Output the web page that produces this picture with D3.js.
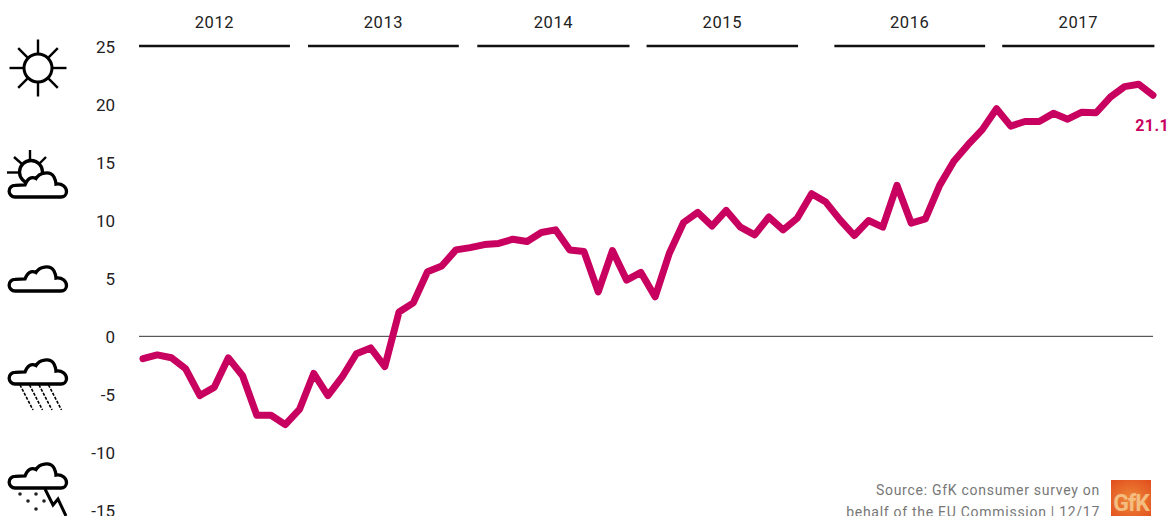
<!DOCTYPE html>
<html>
<head>
<meta charset="utf-8">
<script src="https://cdn.jsdelivr.net/npm/d3@7/dist/d3.min.js"></script>
<style>
html,body{margin:0;padding:0;background:#fff;overflow:hidden}
svg{display:block}
text{font-family:Roboto,sans-serif}
</style>
</head>
<body>
<svg id="c" width="1169" height="516"></svg>
<script>
// Consumer climate index, monthly Jan 2012 - Dec 2017
const values = [
 -1.93,-1.6,-1.85,-2.8,-5.1,-4.4,-1.85,-3.4,-6.8,-6.8,-7.6,-6.3,
 -3.2,-5.1,-3.5,-1.5,-1.0,-2.6,2.1,2.88,5.56,6.05,7.44,7.64,
 7.9,8.0,8.36,8.16,8.94,9.17,7.44,7.3,3.83,7.38,4.84,5.5,
 3.4,7.15,9.8,10.67,9.5,10.84,9.4,8.74,10.27,9.17,10.18,12.28,
 11.56,10.03,8.68,9.97,9.4,13.0,9.75,10.12,13.0,15.08,16.5,17.8,
 19.6,18.1,18.5,18.5,19.2,18.7,19.3,19.25,20.6,21.5,21.7,20.76
];
const yTicks = [25,20,15,10,5,0,-5,-10,-15];
const years = ["2012","2013","2014","2015","2016","2017"];
const yearStartMonth = [-0.28,11.6,23.5,35.4,48.6,60.4];
const yearEndMonth   = [10.33,22.2,34.2,46.05,59.2,71.1];
const lastLabel = "21.1";
const sourceLines = ["Source: GfK consumer survey on","behalf of the EU Commission | 12/17"];

const svg = d3.select("#c");
const x = d3.scaleLinear().domain([0, values.length-1]).range([143,1153]);
const y = d3.scaleLinear().domain([-15,25]).range([510.5,46]);

// y axis
const yAxis = d3.axisLeft(y).tickValues(yTicks).tickSize(0).tickPadding(0).tickFormat(d=>String(d));
const ag = svg.append("g").attr("transform","translate(115,0)").call(yAxis);
ag.select(".domain").remove();
ag.selectAll("text").attr("fill","#222").style("font-size","17px").style("font-family","Roboto,sans-serif").attr("dy","0.36em");

// zero line
svg.append("line").attr("x1",139).attr("x2",1153).attr("y1",y(0)).attr("y2",y(0))
  .attr("stroke","#333").attr("stroke-width",1);

// years
const yg = svg.selectAll("g.year").data(years).join("g").attr("class","year");
yg.append("line")
  .attr("x1",(d,i)=>x(yearStartMonth[i])).attr("x2",(d,i)=>x(yearEndMonth[i]))
  .attr("y1",46).attr("y2",46).attr("stroke","#111").attr("stroke-width",2.5);
yg.append("text")
  .attr("x",(d,i)=>(x(yearStartMonth[i])+x(yearEndMonth[i]))/2).attr("y",28)
  .attr("text-anchor","middle").attr("fill","#222").style("font-size","16.5px").style("letter-spacing","0.6px")
  .text(d=>d);

// line
const line = d3.line().x((d,i)=>x(i)).y(d=>y(d)).curve(d3.curveLinear);
svg.append("path").datum(values).attr("d",line).attr("fill","none")
  .attr("stroke","#c8005f").attr("stroke-width",7).attr("stroke-linejoin","round").attr("stroke-linecap","round");

svg.append("text").attr("x",1169).attr("y",131).attr("text-anchor","end")
  .attr("fill","#c8005f").style("font-size","16px").style("font-weight","700").style("letter-spacing","0.4px").text(lastLabel);

// weather icons
const cloud = "M15,35 A5.8,5.8 0 0 1 15,23.3 L25,23 C27,17 31,14 36,16.5 C39,11 50,8 54,15 C55,17 56,20 56,22 C62,21 66.5,25 66.5,29.5 C66.5,33 64,35 61,35 Z";
const ico = svg.append("g").attr("fill","none").attr("stroke","#000").attr("stroke-width",3.3).attr("stroke-linecap","butt");

// sun
const sun = ico.append("g").attr("transform","translate(38,68)").attr("stroke-width",2.4);
sun.append("circle").attr("r",14).attr("stroke-width",3);
d3.range(8).forEach(k=>{
  const a=k*Math.PI/4, r2=k%2?28:28.5;
  sun.append("line").attr("x1",15*Math.cos(a)).attr("y1",15*Math.sin(a)).attr("x2",r2*Math.cos(a)).attr("y2",r2*Math.sin(a));
});

// sun + cloud
const sc = ico.append("g");
sc.append("circle").attr("cx",31).attr("cy",172).attr("r",11.5);
[[30,150,30,161],[14,157,22,164],[46,157,39,164],[7,172.5,19,172.5]].forEach(l=>
  sc.append("line").attr("x1",l[0]).attr("y1",l[1]).attr("x2",l[2]).attr("y2",l[3]).attr("stroke-width",2.4));
ico.append("path").attr("d",cloud).attr("transform","translate(0,162)").attr("fill","#fff");

// plain cloud
ico.append("path").attr("d",cloud).attr("transform","translate(0,256)").attr("fill","#fff");

// rain
const rain = ico.append("g").attr("transform","translate(0,349)");
rain.append("path").attr("d",cloud).attr("fill","#fff");
[0,1,2,3].forEach(k=>rain.append("line").attr("x1",20+k*9.5).attr("y1",36).attr("x2",33+k*9.5).attr("y2",61)
  .attr("stroke-width",1.6).attr("stroke-dasharray","3 1.5"));

// storm
const st = ico.append("g").attr("transform","translate(0,453)");
st.append("path").attr("d",cloud).attr("fill","#fff");
st.append("path").attr("d","M45,36 L53,52 L58,46 L66,63").attr("stroke-width",3);
[[20,41],[36,41],[28,48],[44,48],[36,56]].forEach(p=>
  st.append("circle").attr("cx",p[0]).attr("cy",p[1]).attr("r",1.8).attr("fill","#222").attr("stroke","none"));

// source
svg.selectAll("text.src").data(sourceLines).join("text").attr("class","src")
  .attr("x",1100).attr("y",(d,i)=>495+i*22).attr("text-anchor","end")
  .attr("fill","#777").style("font-size","14px").style("letter-spacing","0.72px").text(d=>d);

// logo
const defs = svg.append("defs");
const g = defs.append("radialGradient").attr("id","lg").attr("cx","50%").attr("cy","55%").attr("r","70%");
g.append("stop").attr("offset","0%").attr("stop-color","#ee8a3a");
g.append("stop").attr("offset","100%").attr("stop-color","#e2501e");
svg.append("rect").attr("x",1111).attr("y",480).attr("width",40).attr("height",36).attr("fill","url(#lg)");
svg.append("text").attr("x",1131).attr("y",511).attr("text-anchor","middle").attr("fill","#f4bd80")
  .style("font-size","23px").style("font-weight","700").style("letter-spacing","-1px").text("GfK");
</script>
</body>
</html>
